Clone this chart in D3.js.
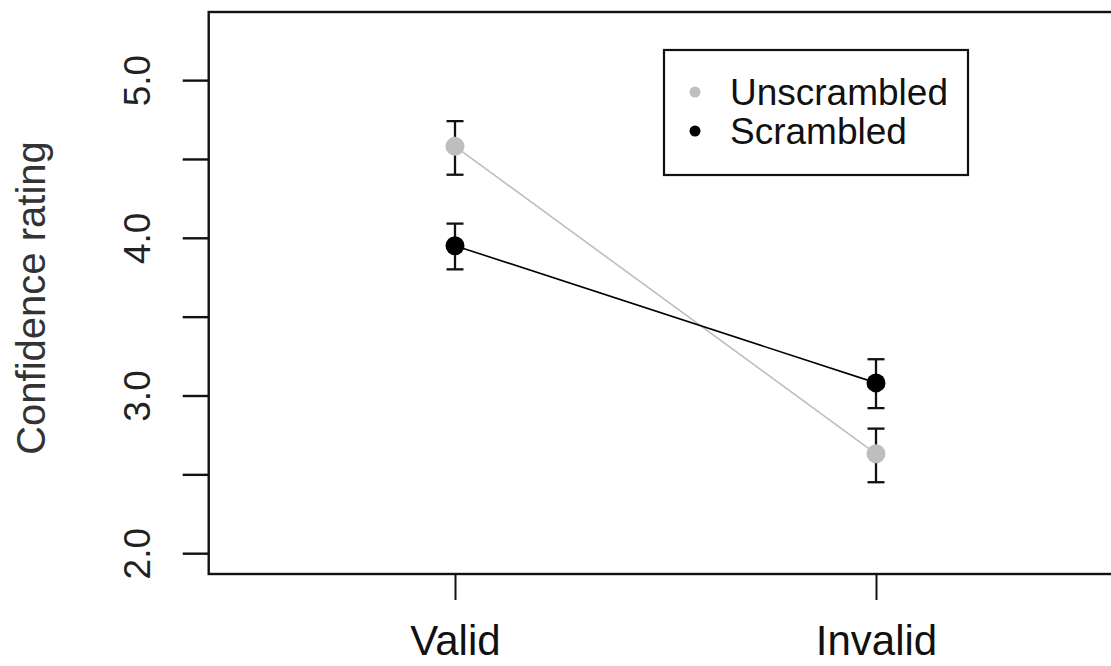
<!DOCTYPE html>
<html>
<head>
<meta charset="utf-8">
<script src="https://cdn.jsdelivr.net/npm/d3@7"></script>
<style>
  html, body { margin: 0; padding: 0; background: #fff; }
  svg { display: block; }
  text { font-family: "Liberation Sans", Arial, sans-serif; fill: #111; }
</style>
</head>
<body>
<svg id="chart" width="1111" height="666"></svg>
<script>
// ---- data ----
const categories = ["Valid", "Invalid"];
const categoryPos = [1, 2];
const seriesNames = ["Unscrambled", "Scrambled"];
const seriesColors = ["#BEBEBE", "#000000"];
const unscrambledMean = [4.58, 2.63];
const unscrambledLower = [4.40, 2.45];
const unscrambledUpper = [4.74, 2.79];
const scrambledMean = [3.95, 3.08];
const scrambledLower = [3.80, 2.92];
const scrambledUpper = [4.09, 3.23];
const yTicks = [2, 2.5, 3, 3.5, 4, 4.5, 5];
const yTickLabels = ["2.0", "", "3.0", "", "4.0", "", "5.0"];
const yTitle = "Confidence rating";

const series = [
  { name: seriesNames[0], color: seriesColors[0], mean: unscrambledMean, lo: unscrambledLower, hi: unscrambledUpper },
  { name: seriesNames[1], color: seriesColors[1], mean: scrambledMean, lo: scrambledLower, hi: scrambledUpper }
];

// ---- layout ----
const plotTop = 12, plotBottom = 574;
const x = d3.scaleLinear().domain([1, 2]).range([455, 876]);
const y = d3.scaleLinear().domain([1.868, 5.432]).range([plotBottom, plotTop]);
const xMin = 0.415, xMax = 2.585;

const svg = d3.select("#chart");

// plot box
svg.append("rect")
  .attr("x", x(xMin)).attr("y", y(5.432))
  .attr("width", x(xMax) - x(xMin)).attr("height", y(1.868) - y(5.432))
  .attr("fill", "none").attr("stroke", "#111").attr("stroke-width", 2.4);

// y axis
const yAxis = d3.axisLeft(y).tickValues(yTicks).tickSize(26).tickPadding(0)
  .tickFormat((d, i) => yTickLabels[i]);
const gy = svg.append("g").attr("transform", `translate(${x(xMin)},0)`).call(yAxis);
gy.select(".domain").remove();
gy.selectAll(".tick line").attr("stroke", "#111").attr("stroke-width", 2.4);
gy.selectAll(".tick text")
  .attr("x", 0).attr("y", 0).attr("dy", null)
  .attr("transform", "translate(-59,0) rotate(-90)")
  .attr("text-anchor", "middle")
  .style("font-size", "37px").style("fill", "#222");

// x axis
const xAxis = d3.axisBottom(x).tickValues(categoryPos).tickSize(26).tickPadding(0)
  .tickFormat((d, i) => categories[i]);
const gx = svg.append("g").attr("transform", `translate(0,${plotBottom})`).call(xAxis);
gx.select(".domain").remove();
gx.selectAll(".tick line").attr("stroke", "#111").attr("stroke-width", 2);
gx.selectAll(".tick text")
  .attr("y", 81).attr("dy", null)
  .style("font-size", "42px").style("fill", "#111");

// y title
svg.append("text")
  .attr("transform", `translate(45,298) rotate(-90)`)
  .attr("text-anchor", "middle")
  .style("font-size", "40px").style("fill", "#333")
  .text(yTitle);

// lines
const line = d3.line().x((d, i) => x(categoryPos[i])).y(d => y(d));
series.forEach(s => {
  svg.append("path").datum(s.mean).attr("d", line)
    .attr("fill", "none").attr("stroke", s.color).attr("stroke-width", 1.6);
});

// error bars
const capHalf = 8.5;
series.forEach(s => {
  const g = svg.append("g");
  categoryPos.forEach((c, i) => {
    g.append("line").attr("x1", x(c)).attr("x2", x(c))
      .attr("y1", y(s.lo[i])).attr("y2", y(s.hi[i]))
      .attr("stroke", "#111").attr("stroke-width", 2.3);
    [s.lo[i], s.hi[i]].forEach(v => {
      g.append("line").attr("x1", x(c) - capHalf).attr("x2", x(c) + capHalf)
        .attr("y1", y(v)).attr("y2", y(v))
        .attr("stroke", "#111").attr("stroke-width", 2.3);
    });
  });
});

// points
series.forEach(s => {
  svg.append("g").selectAll("circle").data(s.mean).join("circle")
    .attr("cx", (d, i) => x(categoryPos[i])).attr("cy", d => y(d))
    .attr("r", 9.5).attr("fill", s.color);
});

// legend
const lg = svg.append("g");
lg.append("rect").attr("x", 664).attr("y", 50).attr("width", 304).attr("height", 125)
  .attr("fill", "#fff").attr("stroke", "#111").attr("stroke-width", 2.2);
series.forEach((s, i) => {
  const cy = 92 + i * 39;
  lg.append("circle").attr("cx", 695).attr("cy", cy).attr("r", 5.5).attr("fill", s.color);
  lg.append("text").attr("x", 730).attr("y", cy + 13)
    .style("font-size", "37px").style("fill", "#111").text(s.name);
});
</script>
</body>
</html>
